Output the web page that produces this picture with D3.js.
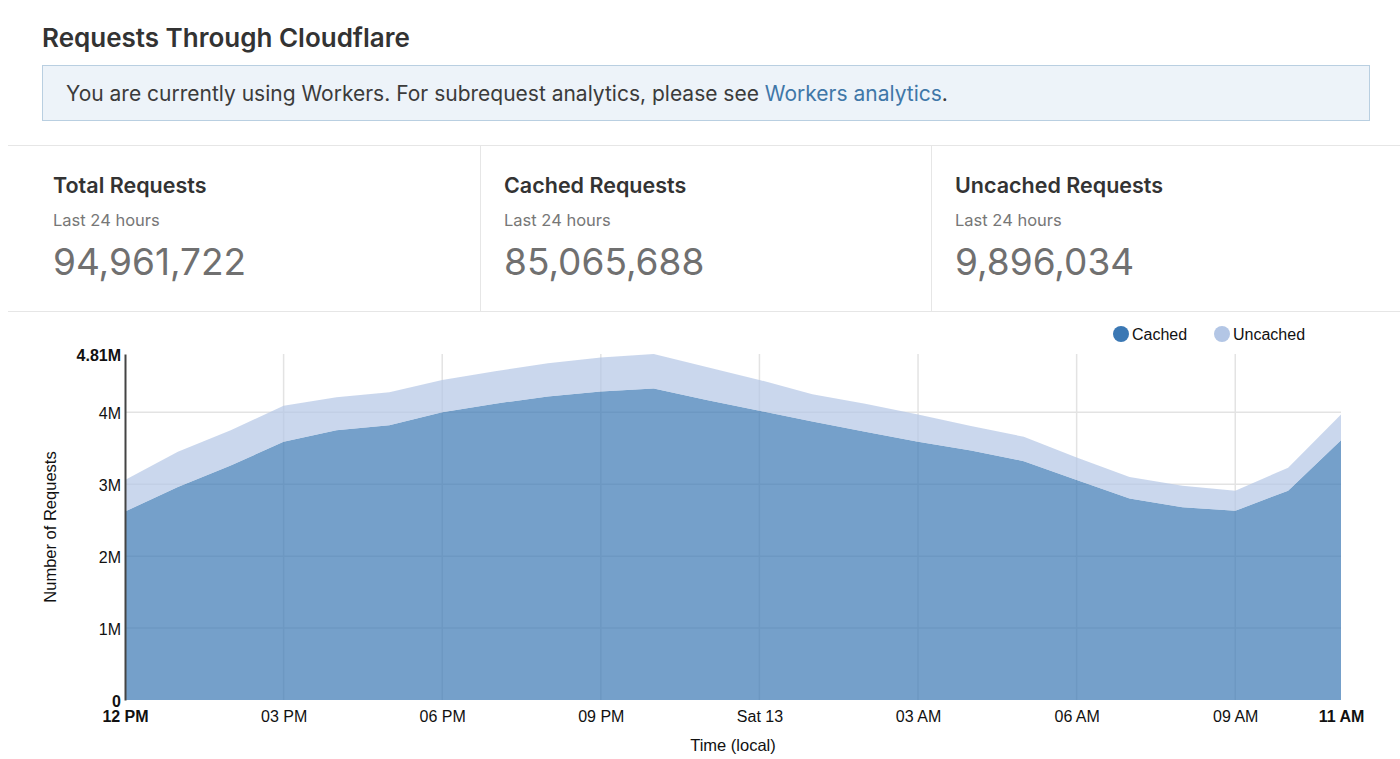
<!DOCTYPE html>
<html>
<head>
<meta charset="utf-8">
<script src="https://cdn.jsdelivr.net/npm/d3@7"></script>
<style>
  body { margin: 0; background: #fff; width: 1400px; height: 759px; overflow: hidden; position: relative;
         font-family: Inter, "Open Sans", sans-serif; color: #333; }
  .title { position: absolute; left: 42px; top: 22px; font-size: 26px; font-weight: 600; color: #333; }
  .notice { position: absolute; left: 42px; top: 65px; width: 1328px; height: 56px; box-sizing: border-box;
            background: #edf3f9; border: 1px solid #b9cfe1; padding-left: 23px; line-height: 55px;
            font-size: 21px; color: #3b3b3b; }
  .notice a { color: #3f77a8; text-decoration: none; }
  .stats { position: absolute; left: 8px; top: 145px; width: 1392px; height: 167px;
           border-top: 1px solid #e6e6e6; border-bottom: 1px solid #e6e6e6; box-sizing: border-box; }
  .stat { position: absolute; top: 0; height: 100%; box-sizing: border-box; padding-left: 45px; }
  .stat + .stat { border-left: 1px solid #e6e6e6; padding-left: 23px; }
  .stat h3 { margin: 0; position: absolute; top: 26px; font-size: 21.5px; font-weight: 600; color: #333; white-space: nowrap; }
  .stat .sub { position: absolute; top: 64px; font-size: 16.5px; color: #777; white-space: nowrap; }
  .stat .num { position: absolute; top: 93px; font-size: 37px; color: #707070; white-space: nowrap; }
  svg { position: absolute; left: 0; top: 0; }
  svg text { font-family: "Liberation Sans", Arial, sans-serif; fill: #111; }
</style>
</head>
<body>
<div class="title">Requests Through Cloudflare</div>
<div class="notice">You are currently using Workers. For subrequest analytics, please see <a>Workers analytics</a>.</div>
<div class="stats" id="stats"></div>
<svg id="chart" width="1400" height="759"></svg>
<script>
// hourly buckets, last 24 hours (local time)
const times = [
  "2019-04-12T12:00", "2019-04-12T13:00", "2019-04-12T14:00", "2019-04-12T15:00",
  "2019-04-12T16:00", "2019-04-12T17:00", "2019-04-12T18:00", "2019-04-12T19:00",
  "2019-04-12T20:00", "2019-04-12T21:00", "2019-04-12T22:00", "2019-04-12T23:00",
  "2019-04-13T00:00", "2019-04-13T01:00", "2019-04-13T02:00", "2019-04-13T03:00",
  "2019-04-13T04:00", "2019-04-13T05:00", "2019-04-13T06:00", "2019-04-13T07:00",
  "2019-04-13T08:00", "2019-04-13T09:00", "2019-04-13T10:00", "2019-04-13T11:00"
];
// requests per hour, in millions
const cached = [2.62, 2.96, 3.26, 3.59, 3.75, 3.82, 4.00, 4.12, 4.22, 4.29, 4.33, 4.17,
                4.02, 3.87, 3.73, 3.59, 3.47, 3.32, 3.06, 2.80, 2.68, 2.63, 2.91, 3.61];
const uncached = [0.44, 0.49, 0.49, 0.50, 0.46, 0.46, 0.45, 0.45, 0.46, 0.47, 0.48, 0.46,
                  0.43, 0.38, 0.39, 0.38, 0.34, 0.34, 0.31, 0.30, 0.30, 0.28, 0.32, 0.36];
const yTicks = [0, 1, 2, 3, 4, 4.81];
const xTicks = ["2019-04-12T12:00", "2019-04-12T15:00", "2019-04-12T18:00", "2019-04-12T21:00",
                "2019-04-13T00:00", "2019-04-13T03:00", "2019-04-13T06:00", "2019-04-13T09:00",
                "2019-04-13T11:00"];

const statTitles = ["Total Requests", "Cached Requests", "Uncached Requests"];
const statValues = ["94,961,722", "85,065,688", "9,896,034"];

const seriesKeys = ["cached", "uncached"];
const seriesNames = ["Cached", "Uncached"];
const seriesColors = ["#3b78b4", "#b3c6e5"];

// stat cards
const statLefts = [0, 472, 923];
const statWidths = [472, 451, 469];
d3.select("#stats").selectAll(".stat")
  .data(statTitles)
  .join("div")
  .attr("class", "stat")
  .style("left", (d, i) => statLefts[i] + "px")
  .style("width", (d, i) => statWidths[i] + "px")
  .html((d, i) => `<h3>${d}</h3><div class="sub">Last 24 hours</div><div class="num">${statValues[i]}</div>`);

// chart
const parse = d3.timeParse("%Y-%m-%dT%H:%M");
const rows = times.map((t, i) => ({ date: parse(t), cached: cached[i], uncached: uncached[i] }));

const margin = { left: 125, right: 59, top: 354, bottom: 59 };
const W = 1400, H = 759;
const svg = d3.select("#chart");

const x = d3.scaleTime()
  .domain(d3.extent(rows, d => d.date))
  .range([margin.left, W - margin.right]);
const y = d3.scaleLinear()
  .domain([0, d3.max(rows, d => d.cached + d.uncached)])
  .range([H - margin.bottom, margin.top]);

const xTickDates = xTicks.map(parse);
const first = xTickDates[0], last = xTickDates[xTickDates.length - 1];

// grid
const grid = svg.append("g");
grid.selectAll(".hg")
  .data(yTicks.slice(1, -1))
  .join("line")
  .attr("x1", margin.left).attr("x2", W - margin.right)
  .attr("y1", d => y(d)).attr("y2", d => y(d))
  .attr("stroke", "#e3e3e3").attr("stroke-width", 1.5);
grid.selectAll(".vg")
  .data(xTickDates.slice(1, -1))
  .join("line")
  .attr("x1", d => x(d)).attr("x2", d => x(d))
  .attr("y1", y.range()[1]).attr("y2", y.range()[0])
  .attr("stroke", "#e3e3e3").attr("stroke-width", 1.5);

// stacked areas
const stack = d3.stack().keys(seriesKeys);
const layers = stack(rows);
const area = d3.area()
  .x(d => x(d.data.date))
  .y0(d => y(d[0]))
  .y1(d => y(d[1]));

svg.append("g").selectAll("path")
  .data(layers)
  .join("path")
  .attr("d", area)
  .attr("fill", (d, i) => seriesColors[i])
  .attr("fill-opacity", 0.7);

// y axis
const yAxis = svg.append("g")
  .attr("transform", `translate(${margin.left},0)`)
  .call(d3.axisLeft(y).tickValues(yTicks).tickSize(0).tickPadding(4)
    .tickFormat(d => d === 0 ? "0" : d + "M"));
yAxis.select(".domain").attr("stroke", "#444").attr("stroke-width", 2);
yAxis.selectAll(".tick text")
  .attr("font-size", 16)
  .attr("dy", "0.4em")
  .attr("font-weight", (d, i) => (i === 0 || i === yTicks.length - 1) ? "bold" : null);

// x axis
const fmtHour = d3.timeFormat("%I %p");
const fmtDay = d3.timeFormat("%a %d");
const xAxis = svg.append("g")
  .attr("transform", `translate(0,${H - margin.bottom})`)
  .call(d3.axisBottom(x).tickValues(xTickDates).tickSize(0).tickPadding(11)
    .tickFormat(d => d.getHours() === 0 ? fmtDay(d) : fmtHour(d)));
xAxis.select(".domain").remove();
xAxis.selectAll(".tick text")
  .attr("font-size", 16)
  .attr("font-weight", d => (+d === +first || +d === +last) ? "bold" : null);

// axis titles
svg.append("text")
  .attr("transform", `translate(56,${(margin.top + H - margin.bottom) / 2}) rotate(-90)`)
  .attr("text-anchor", "middle")
  .attr("font-size", 16.5)
  .text("Number of Requests");
svg.append("text")
  .attr("x", (margin.left + W - margin.right) / 2)
  .attr("y", 751)
  .attr("text-anchor", "middle")
  .attr("font-size", 16.5)
  .text("Time (local)");

// legend
const legendX = [1121, 1222];
const legend = svg.append("g").selectAll("g")
  .data(seriesNames)
  .join("g")
  .attr("transform", (d, i) => `translate(${legendX[i]},334)`);
legend.append("circle").attr("r", 8).attr("fill", (d, i) => seriesColors[i]);
legend.append("text").attr("x", 11).attr("dy", "0.35em").attr("font-size", 16).text(d => d);
</script>
</body>
</html>
